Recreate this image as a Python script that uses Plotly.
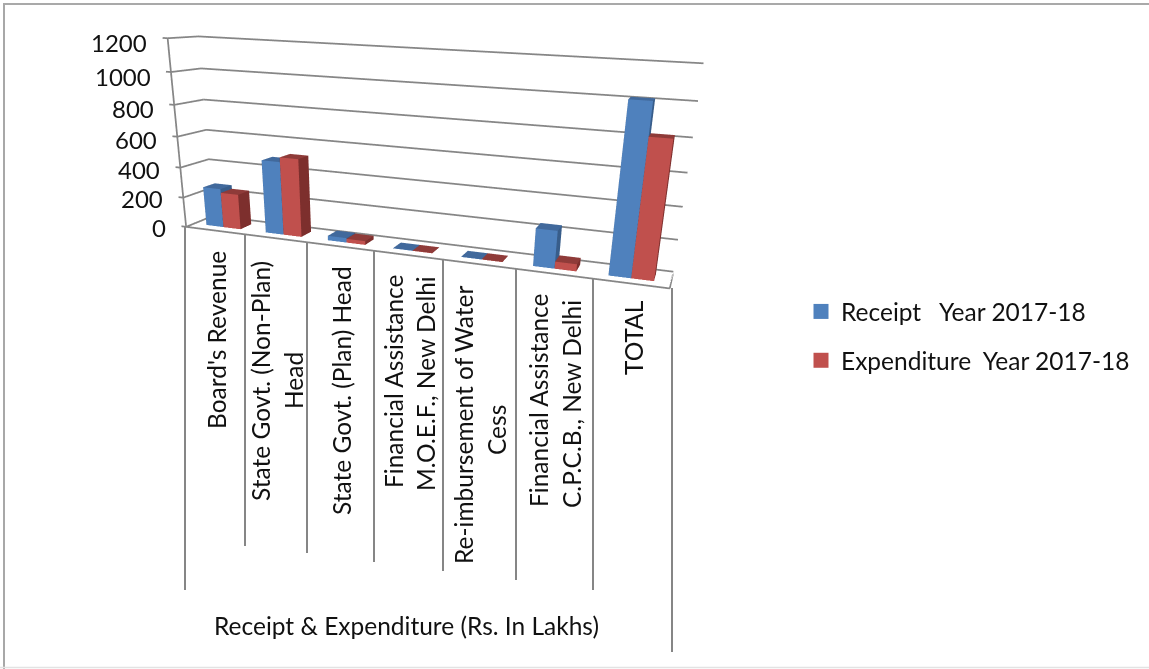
import plotly.graph_objects as go

W, H = 1149, 669
FONT = "Lato"
categories = ["Board's Revenue", "State Govt. (Non-Plan)<br>Head", "State Govt. (Plan) Head",
              "Financial Assistance<br>M.O.E.F., New Delhi", "Re-imbursement of Water<br>Cess",
              "Financial Assistance<br>C.P.C.B., New Delhi", "TOTAL"]
receipt = [260, 480, 30, 2, 2, 235, 1009]
expenditure = [235, 510, 25, 2, 2, 45, 819]
z_ticks = [0, 200, 400, 600, 800, 1000, 1200]
series_names = ["Receipt   Year 2017-18", "Expenditure  Year 2017-18"]
x_title = "Receipt & Expenditure (Rs. In Lakhs)"

BAR_W = 0.29
BAR_Y = (0.29, 0.71)
GRID = "#868686"
LW = 3.5
FS = 24.5


def px(x): return x / W
def py(y): return 1 - y / H


def bars(values, x_off, front, side, top):
    xs, ys, zs, i, j, k, fc = [], [], [], [], [], [], []
    for n, v in enumerate(values):
        x0 = n + 0.5 + x_off
        x1 = x0 + BAR_W
        b = len(xs)
        for a, c, d in [(x0, BAR_Y[0], 0), (x1, BAR_Y[0], 0), (x1, BAR_Y[1], 0), (x0, BAR_Y[1], 0),
                        (x0, BAR_Y[0], v), (x1, BAR_Y[0], v), (x1, BAR_Y[1], v), (x0, BAR_Y[1], v)]:
            xs.append(a); ys.append(c); zs.append(d)
        faces = [((0, 1, 5), front), ((0, 5, 4), front), ((1, 2, 6), side), ((1, 6, 5), side),
                 ((4, 5, 6), top), ((4, 6, 7), top), ((3, 0, 4), side), ((3, 4, 7), side),
                 ((2, 3, 7), side), ((2, 7, 6), side)]
        for (p, q, r), col in faces:
            i.append(b + p); j.append(b + q); k.append(b + r); fc.append(col)
    return go.Mesh3d(x=xs, y=ys, z=zs, i=i, j=j, k=k, facecolor=fc, flatshading=True,
                     lighting=dict(ambient=1, diffuse=0, specular=0, roughness=1, fresnel=0),
                     hoverinfo="skip", showscale=False)


def poly3(xs, ys, zs, width=LW):
    return go.Scatter3d(x=xs, y=ys, z=zs, mode="lines", line=dict(color=GRID, width=width),
                        hoverinfo="skip", showlegend=False)


n_cat = len(categories)
traces = []
gx, gy, gz = [], [], []
for z in z_ticks:
    gx += [-0.08, 0, 0, n_cat, None]
    gy += [0, 0, 1, 1, None]
    gz += [z, z, z, z, None]
traces.append(poly3(gx, gy, gz))
traces.append(poly3([0, 0], [0, 0], [0, 1200]))
traces.append(poly3([0, n_cat, n_cat], [0, 0, 1], [0, 0, 0]))
traces.append(bars(receipt, -BAR_W, "#4F81BD", "#385D8A", "#41699C"))
traces.append(bars(expenditure, 0, "#C0504D", "#7D2F2D", "#8F3B39"))
for name, col in zip(series_names, ["#4F81BD", "#C0504D"]):
    traces.append(go.Scatter(x=[None], y=[None], mode="markers", name=name, legendgroup=name,
                             marker=dict(symbol="square", size=15, color=col)))

fig = go.Figure(traces)

scene_ann = [dict(x=-0.08, y=0, z=z, text=str(z), showarrow=False, xanchor="right", yanchor="middle",
                  xshift=-13.5, yshift=-1 - 4 * z / 1200,
                  font=dict(family=FONT, size=FS - 0.5, color="#111")) for z in z_ticks]

fig.update_layout(
    width=W, height=H, margin=dict(l=0, r=0, t=0, b=0),
    paper_bgcolor="white", plot_bgcolor="white",
    font=dict(family=FONT, size=FS, color="#111"),
    xaxis=dict(visible=False), yaxis=dict(visible=False),
    legend=dict(x=px(801), y=py(289), xanchor="left", yanchor="top", tracegroupgap=14,
                font=dict(family=FONT, size=FS, color="#111"), bgcolor="rgba(0,0,0,0)"),
    scene=dict(
        domain=dict(x=[0, 2 * 451.18 / W], y=[0, 1]),
        xaxis=dict(range=[-0.15, 7], visible=False),
        yaxis=dict(range=[0, 1], visible=False),
        zaxis=dict(range=[0, 1200], visible=False),
        aspectmode="manual", aspectratio=dict(x=2.1741, y=0.2185, z=0.8),
        camera=dict(eye=dict(x=1.1506, y=-3.1305, z=0.5991),
                    center=dict(x=0.3525, y=-0.5259, z=-0.5436),
                    up=dict(x=-0.1183, y=0.2654, z=1),
                    projection=dict(type="perspective")),
        annotations=scene_ann,
    ),
)

div_x = [185, 245, 307, 374, 443, 516, 593, 672]
div_top = [227, 234, 242, 251, 259, 269, 278, 288]
div_bot = [590, 546, 553, 562, 571, 580, 590, 652]
for a, b, c in zip(div_x, div_top, div_bot):
    fig.add_shape(type="line", xref="paper", yref="paper", x0=px(a), x1=px(a), y0=py(b), y1=py(c),
                  line=dict(color=GRID, width=2))

# outer frame edges
fig.add_shape(type="line", xref="paper", yref="paper", x0=px(3), x1=px(1149), y0=py(4), y1=py(4),
              line=dict(color="#8C8C8C", width=1.5))
fig.add_shape(type="line", xref="paper", yref="paper", x0=px(4), x1=px(4), y0=py(4), y1=py(669),
              line=dict(color="#A8A8A8", width=2))
fig.add_shape(type="line", xref="paper", yref="paper", x0=px(0), x1=px(1149), y0=py(667.5), y1=py(667.5),
              line=dict(color="#E3E3E3", width=1.5))

label_pos = [[(216, 340)], [(260, 381), (293, 381)], [(341, 391)], [(393, 381), (425, 384)],
             [(463, 425), (496, 430)], [(538, 400), (571, 404)], [(633, 338)]]
for cat, places in zip(categories, label_pos):
    for line, (x, y) in zip(cat.split("<br>"), places):
        fig.add_annotation(xref="paper", yref="paper", x=px(x), y=py(y), text=line, showarrow=False,
                           textangle=-90, xanchor="center", yanchor="middle")

fig.add_annotation(xref="paper", yref="paper", x=px(407), y=py(625), text=x_title, showarrow=False,
                   xanchor="center", yanchor="middle")

fig.write_html("out.html", config=dict(displayModeBar=False),
               post_script="document.body.style.margin='0';document.body.style.overflow='hidden';")
